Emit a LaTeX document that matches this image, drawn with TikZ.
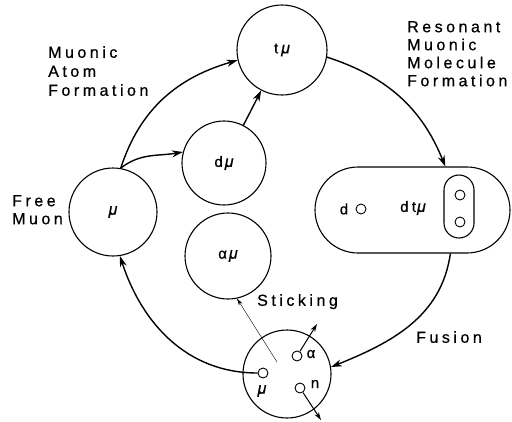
\documentclass[tikz,border=0pt]{standalone}
\usepackage{fontspec}
\setmainfont{Liberation Sans}[LetterSpace=22, FakeBold=0.6]
\usetikzlibrary{arrows.meta}
\newcommand{\muon}{{\fontsize{16}{16}\selectfont\itshape μ}}

\begin{document}
\begin{tikzpicture}[x=1pt, y=-1pt, every node/.style={font=\fontsize{16}{18}\selectfont},
	>={Stealth[length=11pt, width=7pt]},
	atom/.style={draw, circle, line width=1.1pt, minimum size=#1, inner sep=0pt, font=\fontsize{15}{16}\selectfont},
	dot/.style={draw, circle, line width=0.9pt, minimum size=10pt, inner sep=0pt},
	flow/.style={->, line width=1.4pt},
	caption/.style={align=left, anchor=north west, inner sep=0pt}]
	\useasboundingbox (0,0) rectangle (512,421);
	% muonic states
	\node[atom=88pt] (mu) at (113,212) {\muon};
	\node[atom=84pt] (dmu) at (224,163) {d\hspace{2pt}\muon};
	\node[atom=90pt] (tmu) at (282,50) {t\hspace{3pt}\muon};
	\node[atom=86pt] (amu) at (228,256) {α\hspace{2pt}\muon};
	% molecule
	\node[draw, line width=1.1pt, rounded corners=43pt, minimum width=195pt, minimum height=86pt] (mol) at (412.5,210) {};
	\node[draw, line width=1.1pt, rounded corners=15pt, minimum width=30pt, minimum height=63pt] (pair) at (459,206.5) {};
	\node[font=\fontsize{15}{16}\selectfont] (dlab) at (344,209) {d};
	\node[dot] (dd) at (361,209) {};
	\node[font=\fontsize{15}{16}\selectfont] (dtlab) at (413,208) {dt\hspace{1pt}\muon};
	\node[dot] (pa) at (460,195) {};
	\node[dot] (pb) at (460,222) {};
	% fusion products
	\node[atom=88pt] (prod) at (287,374) {};
	\node[dot] (pmu) at (263,373) {};
	\node[dot] (palpha) at (297,356) {};
	\node[dot] (pn) at (300,388) {};
	\node[font=\fontsize{15}{16}\selectfont] (lmu) at (262,391) {\muon};
	\node[font=\fontsize{15}{16}\selectfont] (lalpha) at (311,354) {α};
	\node[font=\fontsize{15}{16}\selectfont] (ln) at (315,384) {n};
	\coordinate (aout) at (317,324);
	\coordinate (nout) at (321,420);
	\coordinate (stk) at (277,362);
	% cycle
	\draw[flow] (mu.80) to[out=72, in=196] (tmu.193);
	\draw[flow] (mu.80) to[out=38, in=190] (dmu.165);
	\draw[flow] (dmu) -- (tmu);
	\draw[flow] (tmu.-9) to[out=-18, in=112] (mol.53);
	\draw[flow] (mol.-49) to[out=-98, in=22] (prod.9);
	\draw[flow] (pmu.west) to[out=180, in=-72] (mu.-81);
	\draw[->, line width=1pt, >={Stealth[length=8pt, width=5pt]}] (palpha) -- (aout);
	\draw[->, line width=1pt, >={Stealth[length=8pt, width=5pt]}] (pn) -- (nout);
	\draw[->, line width=0.4pt, >={Stealth[length=7pt, width=4pt]}] (stk) -- (amu.-78);
	% labels
	\node[caption] (lbatom) at (48,46) {Muonic\\[1pt]Atom\\[1pt]Formation};
	\node[caption] (lbmol) at (407,21) {Resonant\\Muonic\\Molecule\\Formation};
	\node[caption] (lbfree) at (12,195) {Free\\Muon};
	\node[caption] (lbstick) at (257,294) {Sticking};
	\node[caption] (lbfus) at (416,331) {Fusion};
\end{tikzpicture}
\end{document}
